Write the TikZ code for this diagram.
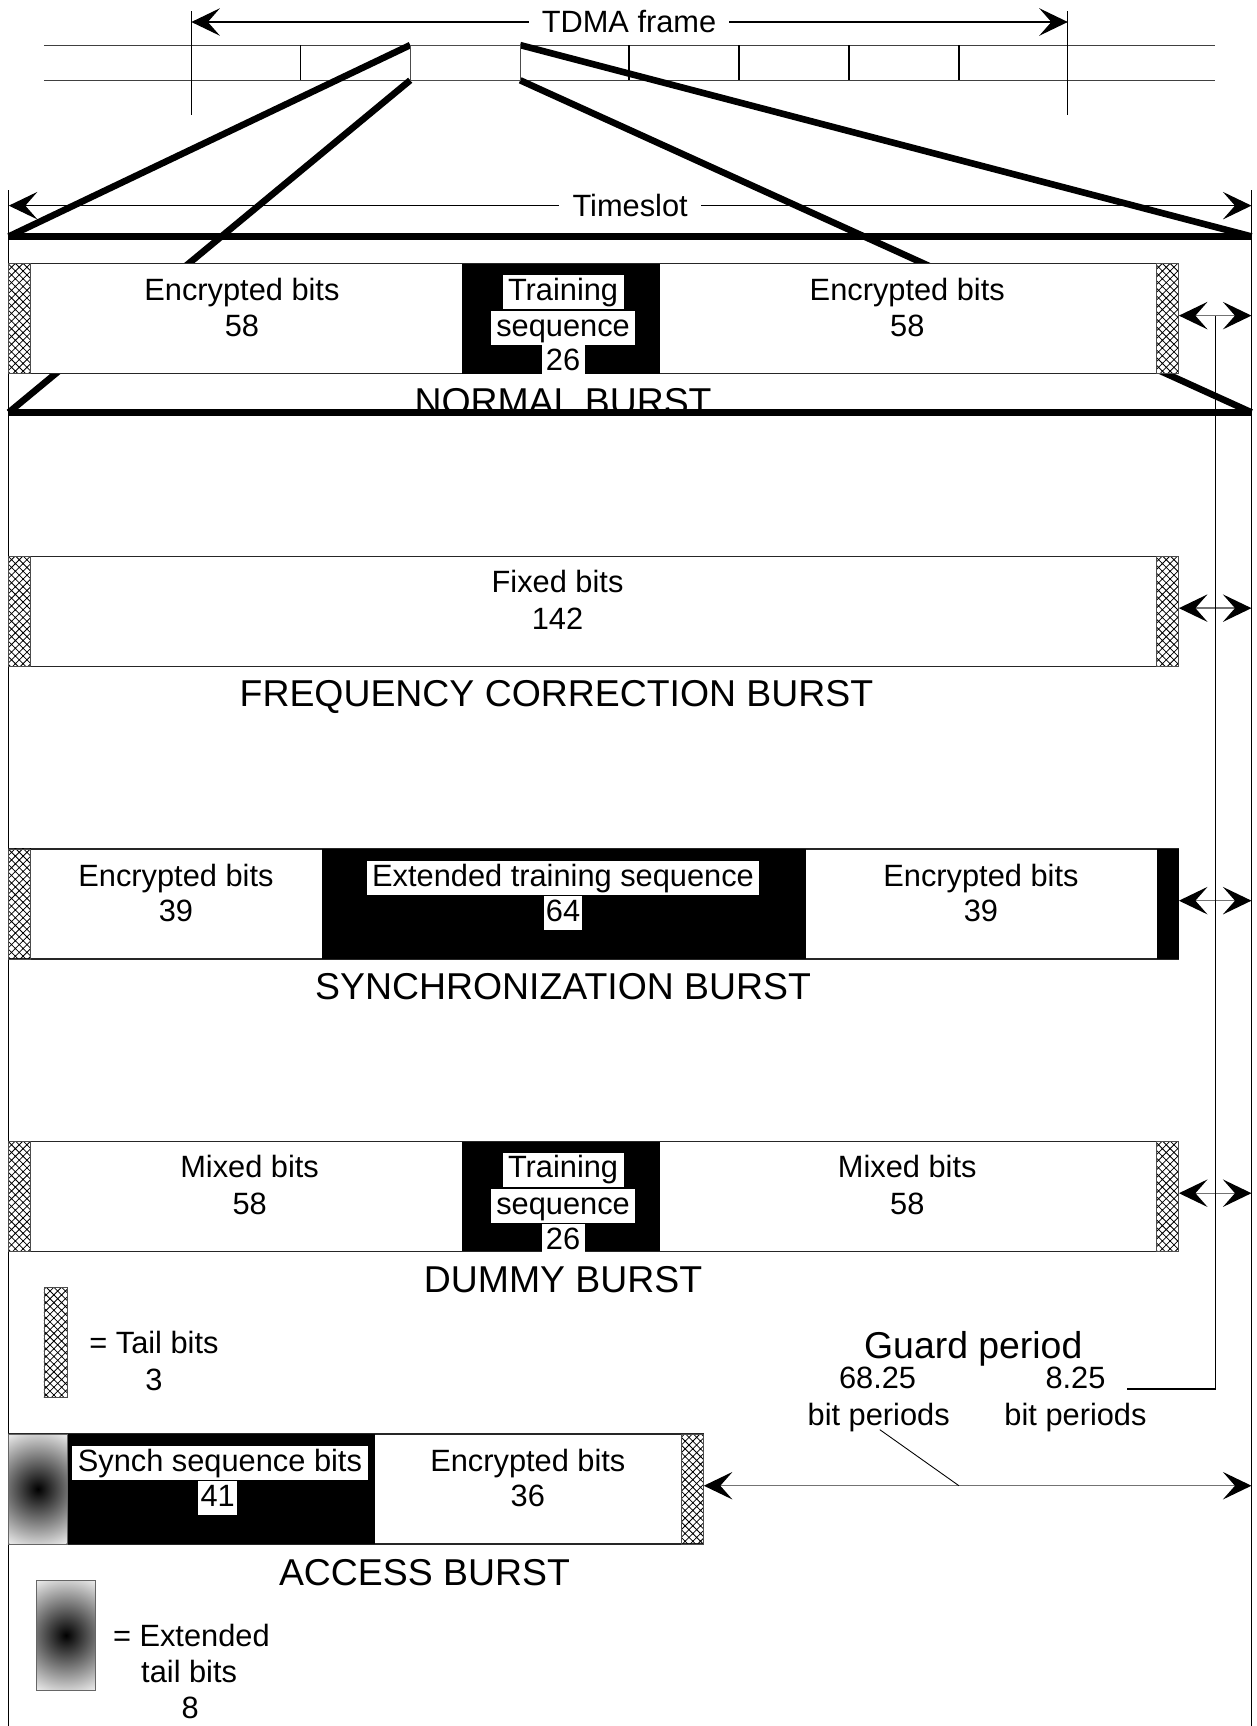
\documentclass[tikz,border=0pt]{standalone}
\usepackage{fontspec}
\setmainfont{Liberation Sans}
\usetikzlibrary{arrows.meta,patterns}
\pgfdeclarepatternformonly{xhatch}{\pgfqpoint{-1pt}{-1pt}}{\pgfqpoint{8pt}{8pt}}{\pgfqpoint{7pt}{7pt}}{%
  \pgfsetlinewidth{0.7pt}%
  \pgfpathmoveto{\pgfqpoint{-0.5pt}{-0.5pt}}\pgfpathlineto{\pgfqpoint{7.5pt}{7.5pt}}%
  \pgfpathmoveto{\pgfqpoint{-0.5pt}{7.5pt}}\pgfpathlineto{\pgfqpoint{7.5pt}{-0.5pt}}%
  \pgfusepath{stroke}}
\definecolor{extedge}{gray}{0.92}
\pgfdeclareradialshading{extshade}{\pgfpoint{0bp}{0bp}}{color(0bp)=(black); color(25bp)=(extedge); color(50bp)=(extedge)}
\begin{document}
\begin{tikzpicture}[x=1pt,y=-1pt,
  >={Stealth[length=26pt,width=25pt,inset=11pt,color=black]},
  burstbox/.style={draw=black!85,line width=1pt,fill=white},
  tailbox/.style={draw=black!70,line width=0.8pt,pattern=xhatch,pattern color=black},
  zoomln/.style={line width=6pt},
  dimln/.style={<->,draw=black!55,line width=1.2pt},
  fineln/.style={draw=black,line width=1pt},
  frameln/.style={draw=black!75,line width=1pt},
  lbl/.style={font=\fontsize{28}{33}\selectfont,inner sep=0pt,anchor=base},
  blbl/.style={font=\fontsize{34}{40}\selectfont,inner sep=0pt,anchor=base},
  wlbl/.style={lbl,fill=white,inner xsep=5pt,inner ysep=2pt,text height=21pt,text depth=6pt},
]
\useasboundingbox (0,0) rectangle (1143,1569.5);

% ---------- TDMA frame ----------
\draw[frameln] (40,41) -- (1105,41);
\draw[frameln] (40,73) -- (1105,73);
\draw[fineln] (174,10) -- (174,105);
\draw[fineln] (971,10) -- (971,105);
\foreach \xx in {273,572,672,772,872} \draw[fineln] (\xx,41) -- (\xx,73);
\coordinate (tdmaL) at (174,20);
\coordinate (tdmaR) at (971,20);
\draw[<->,fineln] (tdmaL) -- (tdmaR);
\node[lbl,fill=white,inner xsep=12pt,inner ysep=2pt] (tdmalbl) at (572,30) {TDMA frame};

% ---------- Timeslot ----------
\draw[fineln] (8,173) -- (8,1569.5);
\draw[fineln] (1138,173) -- (1138,1569.5);
\coordinate (tsL) at (8,187);
\coordinate (tsR) at (1138,187);
\draw[<->,fineln] (tsL) -- (tsR);
\node[lbl,fill=white,inner xsep=12pt,inner ysep=2pt] (tslbl) at (573,197) {Timeslot};

% zoom lines
\coordinate (sTL) at (373,41);
\coordinate (sTR) at (473,41);
\coordinate (sBL) at (373,73);
\coordinate (sBR) at (473,73);
\coordinate (zTL) at (8,215);
\coordinate (zTR) at (1138,215);
\coordinate (zBL) at (8,375);
\coordinate (zBR) at (1138,375);
\draw[zoomln] (sTL) -- (zTL);
\draw[zoomln] (sTR) -- (zTR);
\draw[zoomln] (sBL) -- (zBL);
\draw[zoomln] (sBR) -- (zBR);
\draw[zoomln] (zTL) -- (zTR);
\draw[fill=white,draw=black!70,line width=1pt] (373,41) rectangle (473,73);

% ---------- Normal burst ----------
\draw[burstbox] (8,240) rectangle (1072,340);
\fill (420,240) rectangle (600,340);
\draw[tailbox] (8,240) rectangle (28,340);
\draw[tailbox] (1052,240) rectangle (1072,340);
\node[lbl] (nb1) at (220,273) {Encrypted bits};
\node[lbl] (nb2) at (220,306) {58};
\node[lbl] (nb3) at (825,273) {Encrypted bits};
\node[lbl] (nb4) at (825,306) {58};
\node[wlbl] (nb5) at (512,273) {Training};
\node[wlbl] (nb6) at (512,306) {sequence};
\node[wlbl,inner xsep=4pt] (nb7) at (512,337) {26};
\begin{scope}
\clip (0,344) rectangle (1143,400);
\node[blbl] (nblbl) at (512,377) {NORMAL BURST};
\end{scope}
\draw[zoomln] (zBL) -- (zBR);

% ---------- Frequency correction burst ----------
\draw[burstbox] (8,506) rectangle (1072,606);
\draw[tailbox] (8,506) rectangle (28,606);
\draw[tailbox] (1052,506) rectangle (1072,606);
\node[lbl] (fb1) at (507,539) {Fixed bits};
\node[lbl] (fb2) at (507,572) {142};
\node[blbl] (fblbl) at (506,642) {FREQUENCY CORRECTION BURST};

% ---------- Synchronization burst ----------
\draw[burstbox] (8,772) rectangle (1072,872);
\fill (293,772) rectangle (733,872);
\fill (1052,772) rectangle (1072,872);
\draw[tailbox] (8,772) rectangle (28,872);
\node[lbl] (sb1) at (160,806) {Encrypted bits};
\node[lbl] (sb2) at (160,838) {39};
\node[lbl] (sb3) at (892,806) {Encrypted bits};
\node[lbl] (sb4) at (892,838) {39};
\node[wlbl] (sb5) at (512,806) {Extended training sequence};
\node[wlbl,inner xsep=2pt] (sb6) at (512,838) {64};
\node[blbl] (sblbl) at (512,909) {SYNCHRONIZATION BURST};

% ---------- Dummy burst ----------
\draw[burstbox] (8,1038) rectangle (1072,1138);
\fill (420,1038) rectangle (600,1138);
\draw[tailbox] (8,1038) rectangle (28,1138);
\draw[tailbox] (1052,1038) rectangle (1072,1138);
\node[lbl] (db1) at (227,1071) {Mixed bits};
\node[lbl] (db2) at (227,1104) {58};
\node[lbl] (db3) at (825,1071) {Mixed bits};
\node[lbl] (db4) at (825,1104) {58};
\node[wlbl] (db5) at (512,1071) {Training};
\node[wlbl] (db6) at (512,1104) {sequence};
\node[wlbl,inner xsep=4pt] (db7) at (512,1136) {26};
\node[blbl] (dblbl) at (512,1175) {DUMMY BURST};

% ---------- Tail bits legend ----------
\draw[tailbox] (40,1171) rectangle (61,1271);
\node[lbl] (tl1) at (140,1231) {= Tail bits};
\node[lbl] (tl2) at (140,1264) {3};

% ---------- Guard periods (right) ----------
\coordinate (g1a) at (1072,287); \coordinate (g1b) at (1138,287);
\coordinate (g2a) at (1072,553); \coordinate (g2b) at (1138,553);
\coordinate (g3a) at (1072,819); \coordinate (g3b) at (1138,819);
\coordinate (g4a) at (1072,1085); \coordinate (g4b) at (1138,1085);
\draw[dimln] (g1a) -- (g1b);
\draw[dimln] (g2a) -- (g2b);
\draw[dimln] (g3a) -- (g3b);
\draw[dimln] (g4a) -- (g4b);
\coordinate (vtop) at (1105,287);
\coordinate (vend) at (1025,1263);
\draw[fineln] (vend) -| (vtop);

\node[blbl] (gp) at (885,1235) {Guard period};
\node[lbl] (gp1) at (798,1263) {68.25};
\node[lbl] (gp2) at (799,1296) {bit periods};
\node[lbl] (gp3) at (978,1263) {8.25};
\node[lbl] (gp4) at (978,1296) {bit periods};

% ---------- Access burst ----------
\draw[burstbox] (8,1304) rectangle (640,1404);
\fill (61,1304) rectangle (341,1404);
\begin{scope}
\clip (8,1304) rectangle (61,1404);
\shade[shading=extshade] (34.5,1354) circle[radius=56pt];
\end{scope}
\draw[draw=black!60,line width=0.8pt] (8,1304) rectangle (61,1404);
\draw[tailbox] (620,1304) rectangle (640,1404);
\node[wlbl] (ab1) at (200,1338) {Synch sequence bits};
\node[wlbl,inner xsep=2pt] (ab2) at (198,1370) {41};
\node[lbl] (ab3) at (480,1338) {Encrypted bits};
\node[lbl] (ab4) at (480,1370) {36};
\node[blbl] (ablbl) at (386,1442) {ACCESS BURST};

\coordinate (ga) at (640,1351);
\coordinate (gb) at (1138,1351);
\draw[dimln] (ga) -- (gb);
\coordinate (lead) at (872,1351);
\draw[draw=black,line width=0.8pt] (800,1300) -- (lead);

% ---------- Extended tail legend ----------
\begin{scope}
\clip (33,1437) rectangle (87,1537);
\shade[shading=extshade] (60,1487) circle[radius=56pt];
\end{scope}
\draw[draw=black!60,line width=0.8pt] (33,1437) rectangle (87,1537);
\node[lbl] (el1) at (174,1497) {= Extended};
\node[lbl] (el2) at (172,1530) {tail bits};
\node[lbl] (el3) at (173,1563) {8};
\end{tikzpicture}
\end{document}
